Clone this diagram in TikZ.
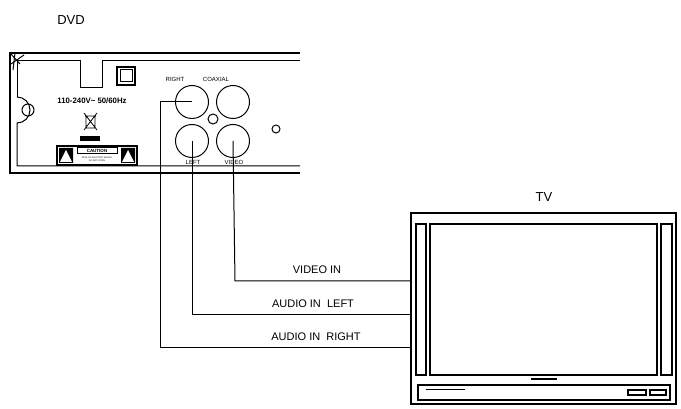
\documentclass[tikz,border=0pt]{standalone}
\usepackage{fontspec}
\setmainfont{Liberation Sans}
\begin{document}
\begin{tikzpicture}[x=1pt,y=-1pt,line width=1pt,
 lbl/.style={font=\fontsize{11}{12}\selectfont},
 tiny/.style={font=\fontsize{6}{6}\selectfont},
 thick2/.style={line width=1.6pt}]
\useasboundingbox (0,0) rectangle (681,409);
% titles
\node[lbl,font=\fontsize{13}{14}\selectfont] (dvdt) at (71,20) {DVD};
\node[lbl,font=\fontsize{13}{14}\selectfont] (tvt) at (544,197) {TV};
% DVD body
\draw[thick2] (300,53) -- (10,53) -- (10,173) -- (300,173);
\draw (300,61) -- (102,61) -- (102,88) -- (80,88) -- (80,61) -- (17,61) -- (17,97);
\draw (17,97) arc (-90:90:13) -- (17,166) -- (300,166);
\draw (10,53) -- (20,64);
\draw (15,53) -- (13,70);
\draw (11,64) -- (24,55);
\draw[thick2] (117,67) rectangle (135,85);
\draw (120,70) rectangle (132,82);
\draw (28,110) circle (6);
\node[font=\fontsize{7.8}{8}\selectfont\bfseries] (volt) at (92,101) {110-240V\textasciitilde{} 50/60Hz};
% bin icon
\draw[line width=0.8pt] (84,113) -- (97,130) (97,113) -- (84,130) (86,116) rectangle (95,128) (85,116) -- (96,116);
\fill (80,136) rectangle (100,141);
% caution
\draw[thick2] (57,146) rectangle (137,165);
\fill (59,148) rectangle (73,163) (121,148) rectangle (135,163);
\fill[white] (66,150) -- (60,162) -- (72,162) -- cycle (128,150) -- (122,162) -- (134,162) -- cycle;
\draw (77,148) rectangle (117,154);
\node[font=\fontsize{4.5}{4.5}\selectfont\bfseries] (caut) at (97,151) {CAUTION};
\node[font=\fontsize{2.3}{2.5}\selectfont,align=center] (cautt) at (97,159) {RISK OF ELECTRIC SHOCK\\DO NOT OPEN};
% jacks
\node[draw,circle,minimum size=33pt,inner sep=0] (jr) at (192,102) {};
\node[draw,circle,minimum size=33pt,inner sep=0] (jc) at (233,102) {};
\node[draw,circle,minimum size=33pt,inner sep=0] (jl) at (192,141) {};
\node[draw,circle,minimum size=33pt,inner sep=0] (jv) at (233,141) {};
\draw (213,119) circle (5);
\draw (276,129) circle (4);
\node[tiny] (tr) at (175,79) {RIGHT};
\node[tiny] (tc) at (216,79) {COAXIAL};
\node[tiny] (tl) at (193,162) {LEFT};
\node[tiny] (tv) at (234,162) {VIDEO};
% TV
\draw[thick2] (411,213) rectangle (676,404);
\draw[thick2] (416,224) rectangle (426,375);
\draw[thick2] (430,224) rectangle (657,375);
\draw[thick2] (661,224) rectangle (672,375);
\draw[thick2] (418,385) rectangle (670,400);
\draw[line width=2pt] (531,379) -- (557,379);
\draw (426,389) -- (465,389);
\draw[thick2] (628,390) rectangle (646,395) (650,390) rectangle (666,395);
\coordinate (tvv) at (411,281);
\coordinate (tvl) at (411,314);
\coordinate (tvr) at (411,347);
% wires
\draw (jr.center) -- (160,102) |- (tvr);
\draw (jl.center) -- (192,314) -- (tvl);
\draw (jv.center) -- (235,281) -- (tvv);
\node[lbl] (lv) at (317,270) {VIDEO IN};
\node[lbl] (ll) at (313,304) {AUDIO IN\ \ LEFT};
\node[lbl] (lr) at (316,337) {AUDIO IN\ \ RIGHT};
\end{tikzpicture}
\end{document}
